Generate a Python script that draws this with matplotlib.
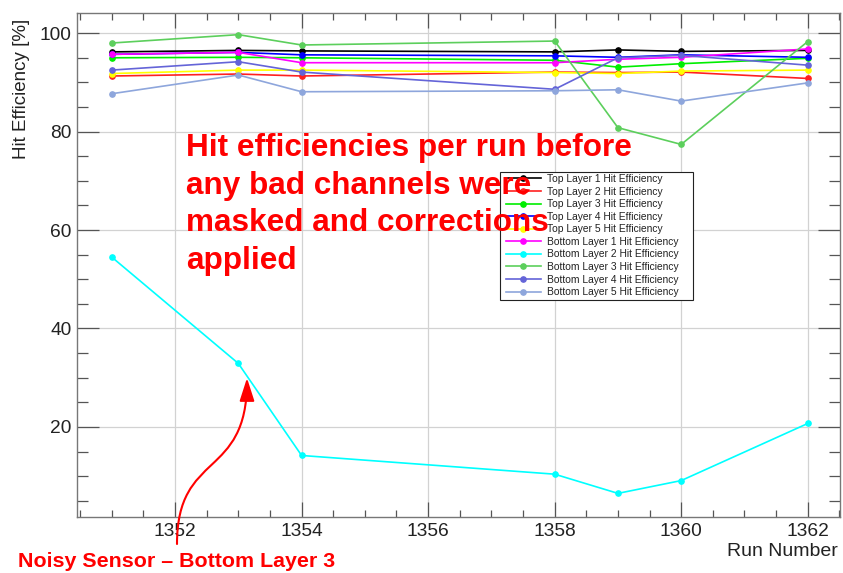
import numpy as np
import matplotlib
matplotlib.use("Agg")
import matplotlib.pyplot as plt
from matplotlib.ticker import MultipleLocator
from matplotlib.patches import FancyArrowPatch, Rectangle
from matplotlib.path import Path

plt.rcParams["font.family"] = ["Liberation Sans", "DejaVu Sans"]

# run numbers and per-layer hit efficiencies [%]
runs = [1351, 1353, 1354, 1358, 1359, 1360, 1362]
top1 = [96.2, 96.5, 96.4, 96.2, 96.6, 96.3, 96.5]
top2 = [91.3, 91.7, 91.3, 92.1, 92.0, 92.1, 90.8]
top3 = [95.0, 95.1, 95.0, 94.5, 93.1, 93.8, 94.9]
top4 = [95.7, 96.1, 95.6, 95.4, 95.1, 95.6, 95.1]
top5 = [91.8, 92.5, 92.5, 92.0, 91.8, 92.3, 92.5]
bot1 = [95.7, 96.1, 94.0, 94.0, 94.7, 95.1, 96.8]
bot2 = [54.5, 32.9, 14.2, 10.4, 6.5, 9.1, 20.7]
bot3 = [98.0, 99.7, 97.6, 98.4, 80.8, 77.4, 98.3]
bot4 = [92.5, 94.2, 92.1, 88.6, 95.0, 95.5, 93.5]
bot5 = [87.7, 91.5, 88.1, 88.3, 88.5, 86.2, 89.9]

labels = [
    "Top Layer 1 Hit Efficiency",
    "Top Layer 2 Hit Efficiency",
    "Top Layer 3 Hit Efficiency",
    "Top Layer 4 Hit Efficiency",
    "Top Layer 5 Hit Efficiency",
    "Bottom Layer 1 Hit Efficiency",
    "Bottom Layer 2 Hit Efficiency",
    "Bottom Layer 3 Hit Efficiency",
    "Bottom Layer 4 Hit Efficiency",
    "Bottom Layer 5 Hit Efficiency",
]
series = [top1, top2, top3, top4, top5, bot1, bot2, bot3, bot4, bot5]
colors = ["#000000", "#ff2020", "#00ee00", "#0000ff", "#ffff00",
          "#ff00ff", "#00ffff", "#5ccf5c", "#6464d8", "#8ea6dc"]

W, H = 843, 573
fig = plt.figure(figsize=(W / 100, H / 100), dpi=100)
ax = fig.add_axes([77 / W, 1 - 517 / H, (840 - 77) / W, (517 - 13) / H])

for vals, c, lab in zip(series, colors, labels):
    ax.plot(runs, vals, color=c, lw=1.2, marker="o", ms=3.8, label=lab, zorder=3)

ax.set_xlim(1350.45, 1362.51)
ax.set_ylim(1.7, 104.1)
ax.xaxis.set_major_locator(MultipleLocator(2))
ax.xaxis.set_minor_locator(MultipleLocator(0.5))
ax.yaxis.set_major_locator(MultipleLocator(20))
ax.yaxis.set_minor_locator(MultipleLocator(5))
ax.grid(True, which="major", color="#d2d2d2", lw=0.9, zorder=0)
ax.set_axisbelow(True)

ax.tick_params(axis="both", which="both", direction="in", top=True, right=True,
               colors="#555555", labelcolor="#222222", labelsize=13.8, width=0.9)
ax.tick_params(axis="x", which="major", length=11, pad=4)
ax.tick_params(axis="x", which="minor", length=5)
ax.tick_params(axis="y", which="major", length=16, pad=4)
ax.tick_params(axis="y", which="minor", length=8)
ax.set_yticks([20, 40, 60, 80, 100])
for s in ax.spines.values():
    s.set_color("#777777")
    s.set_linewidth(1.0)

fig.text(22 / W, 1 - 19 / H, "Hit Efficiency [%]", rotation=90, ha="center",
         va="top", fontsize=13.5, color="#222222")
fig.text(838 / W, 1 - 551 / H, "Run Number", ha="right", va="center",
         fontsize=14, color="#222222")

# legend box (ROOT style, square white box)
box = Rectangle((500 / W, 1 - 300 / H), 193 / W, 128 / H, transform=fig.transFigure,
                facecolor="white", edgecolor="#222222", lw=0.8, zorder=4)
fig.patches.append(box)
leg = ax.legend(loc="upper left", bbox_to_anchor=(506 / W, 1 - 174 / H),
                bbox_transform=fig.transFigure, fontsize=7.4, frameon=False,
                borderpad=0.0, labelspacing=0.25, handlelength=3.4,
                handletextpad=0.6, borderaxespad=0)
for t in leg.get_texts():
    t.set_color("#222222")
leg.remove()
fig.add_artist(leg)
leg.set_zorder(5)

fig.text(186 / W, 1 - 133 / H,
         "Hit efficiencies per run before\nany bad channels were\nmasked and corrections\napplied",
         ha="left", va="top", fontsize=22.7, fontweight="bold", color="#ff0000",
         linespacing=1.33, zorder=10)

fig.text(18 / W, 1 - 567 / H, "Noisy Sensor \u2013 Bottom Layer 3", ha="left",
         va="baseline", fontsize=15.4, fontweight="bold", color="#ff0000")

pts = [(177, 544), (177, 450), (247, 480), (247, 378)]
verts = [(x / W, 1 - y / H) for x, y in pts]
arrow_path = Path(verts, [Path.MOVETO, Path.CURVE4, Path.CURVE4, Path.CURVE4])
arrow = FancyArrowPatch(path=arrow_path, transform=fig.transFigure,
                        arrowstyle="-|>,head_length=1.4,head_width=0.45",
                        mutation_scale=10, color="#ff0000", lw=1.5, zorder=10)
fig.patches.append(arrow)

fig.savefig("out.png", dpi=100)
